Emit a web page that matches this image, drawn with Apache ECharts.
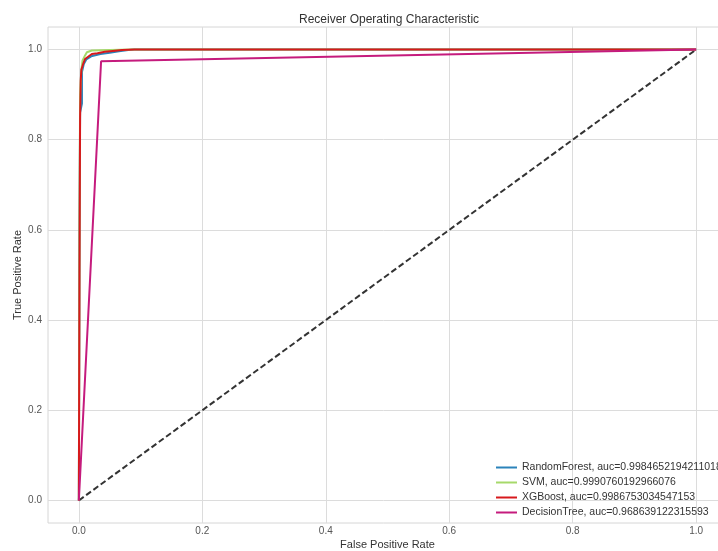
<!DOCTYPE html>
<html>
<head>
<meta charset="utf-8">
<script src="https://cdn.jsdelivr.net/npm/echarts@6/dist/echarts.min.js"></script>
<style>html,body{margin:0;padding:0;background:#fff;}#c{width:718px;height:551px;}</style>
</head>
<body>
<div id="c"></div>
<script>
const titleText = 'Receiver Operating Characteristic';
const xName = 'False Positive Rate';
const yName = 'True Positive Rate';
const tickValues = [0, 0.2, 0.4, 0.6, 0.8, 1.0];
const modelNames = ['RandomForest', 'SVM', 'XGBoost', 'DecisionTree'];
const aucValues = ['0.9984652194211018', '0.9990760192966076', '0.9986753034547153', '0.968639122315593'];
const colors = ['#2b83ba', '#a6d96a', '#d7191c', '#c51b7d'];

const rfFpr  = [0, 0.001, 0.002, 0.005, 0.005, 0.008, 0.012, 0.02, 0.035, 0.05, 0.065, 0.08, 0.09, 1];
const rfTpr  = [0, 0.6, 0.86, 0.88, 0.95, 0.968, 0.978, 0.985, 0.99, 0.993, 0.996, 0.999, 1, 1];
const svmFpr = [0, 0.001, 0.002, 0.004, 0.006, 0.01, 0.013, 0.021, 0.05, 0.085, 1];
const svmTpr = [0, 0.6, 0.9, 0.955, 0.976, 0.987, 0.994, 0.998, 0.999, 1, 1];
const xgbFpr = [0, 0.001, 0.002, 0.003, 0.004, 0.007, 0.01, 0.015, 0.021, 0.03, 0.042, 0.055, 0.07, 0.09, 1];
const xgbTpr = [0, 0.5, 0.85, 0.93, 0.955, 0.968, 0.979, 0.984, 0.99, 0.992, 0.995, 0.997, 0.999, 1, 1];
const dtFpr  = [0, 0.036, 1];
const dtTpr  = [0, 0.974, 1];
const diagFpr = [0, 1];
const diagTpr = [0, 1];

function pairs(xs, ys) { return xs.map((x, i) => [x, ys[i]]); }
const curves = [pairs(rfFpr, rfTpr), pairs(svmFpr, svmTpr), pairs(xgbFpr, xgbTpr), pairs(dtFpr, dtTpr)];
const legendNames = modelNames.map((n, i) => n + ', auc=' + aucValues[i]);

const font = 'Liberation Sans, Arial, sans-serif';
const chart = echarts.init(document.getElementById('c'));
const axisCommon = {
  type: 'value', min: -0.05, max: 1.05,
  axisLine: { show: false },
  axisTick: { show: false, customValues: tickValues },
  axisLabel: { customValues: tickValues, color: '#555', fontSize: 10, fontFamily: font, formatter: v => v.toFixed(1) },
  splitLine: { show: true, lineStyle: { color: '#dcdcdc', width: 1 } },
  nameLocation: 'middle',
  nameMoveOverlap: false,
  nameTextStyle: { color: '#333', fontSize: 11, fontFamily: font }
};
const series = curves.map((d, i) => ({
  name: legendNames[i], type: 'line', data: d, showSymbol: false, symbol: 'none',
  lineStyle: { width: 2, color: colors[i] }, itemStyle: { color: colors[i] }, z: 3 + i, animation: false
}));
series.push({
  name: 'diag', type: 'line', data: pairs(diagFpr, diagTpr), showSymbol: false, symbol: 'none',
  lineStyle: { width: 2, color: '#333', type: [6, 3] }, z: 2, animation: false
});
chart.setOption({
  animation: false,
  backgroundColor: '#fff',
  title: { text: titleText, left: 294, top: 9, textStyle: { fontSize: 12, fontWeight: 'normal', color: '#333', fontFamily: font } },
  grid: { left: 48, right: -9, top: 27, bottom: 28, show: true, borderColor: '#d6d6d6', borderWidth: 1, containLabel: false, outerBoundsMode: 'none' },
  xAxis: Object.assign({}, axisCommon, { name: xName, nameGap: 16, axisLabel: Object.assign({}, axisCommon.axisLabel, { margin: 3 }) }),
  yAxis: Object.assign({}, axisCommon, { name: yName, nameGap: 25, axisLabel: Object.assign({}, axisCommon.axisLabel, { margin: 6 }) }),
  legend: {
    data: legendNames, orient: 'vertical', left: 496, top: 462, padding: 0, itemWidth: 21, itemHeight: 2, itemGap: 4,
    icon: 'rect', textStyle: { fontSize: 10.5, color: '#333', fontFamily: font }
  },
  series: series
});
</script>
</body>
</html>
